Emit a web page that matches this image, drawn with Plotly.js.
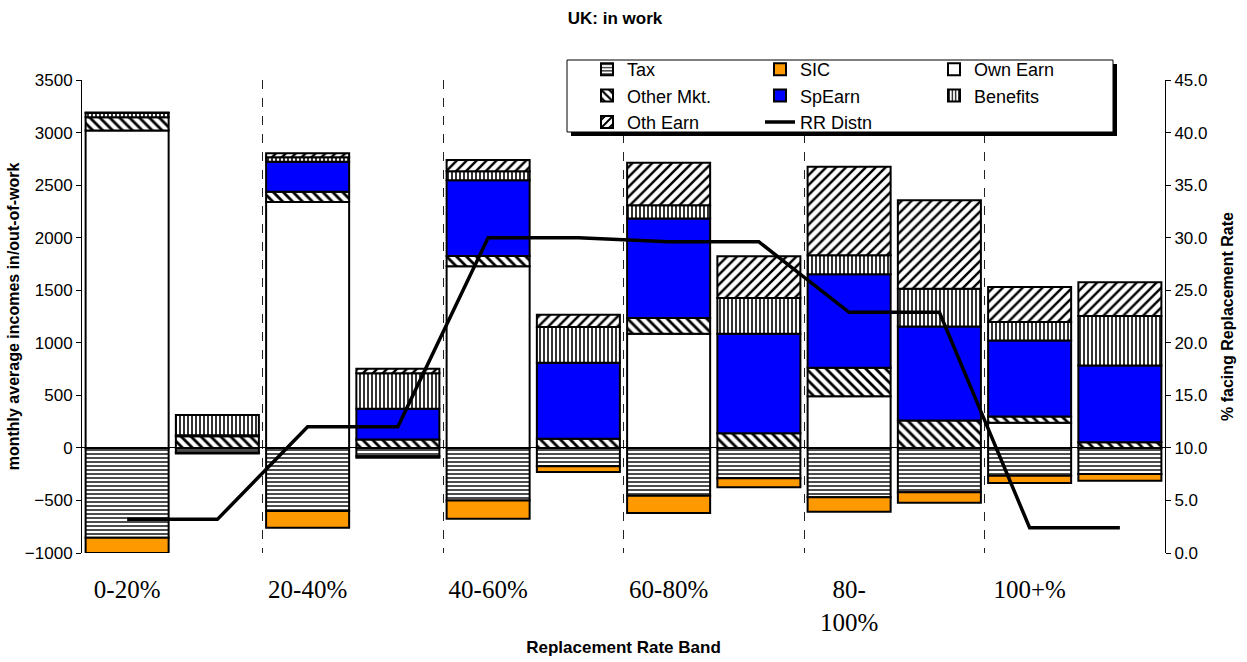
<!DOCTYPE html>
<html>
<head>
<meta charset="utf-8">
<script src="https://cdn.plot.ly/plotly-3.0.1.min.js"></script>
<style>html,body{margin:0;padding:0;background:#fff;}#chart{width:1247px;height:662px;}</style>
</head>
<body>
<div id="chart"></div>
<script>
// Replacement-rate bands (each band has an in-work bar and an out-of-work bar)
const bandLabels = ["0-20%", "20-40%", "40-60%", "60-80%", "80-<br>100%", "100+%"];

// Components per bar (order: band1 in, band1 out, band2 in, band2 out, ...)
const tax      = [-855, -45, -600, -80, -500, -175, -455, -290, -470, -423, -264, -248];
const sic      = [-145,  -8, -160, -15, -175,  -55, -165,  -85, -137, -100,  -70,  -64];
const ownEarn  = [3020,   0, 2340,   0, 1728,    0, 1086,    0,  492,    0,  238,    0];
const otherMkt = [ 125, 110,   96,  79,   98,   86,  149,  139,  270,  260,   60,   53];
const spEarn   = [   0,  10,  286, 293,  721,  724,  947,  947,  889,  894,  724,  731];
const benefits = [  40, 194,   42, 339,   86,  339,  127,  340,  182,  361,  175,  470];
const othEarn  = [   5,   0,   38,  42,  105,  118,  403,  397,  841,  842,  333,  321];

// % facing replacement rate (secondary axis)
const rrDistn  = [3.2, 3.2, 12.0, 12.0, 30.0, 30.0, 29.6, 29.6, 22.9, 22.9, 2.4, 2.4];

const xPos = tax.map((_, i) => i);
const bandTickVals = bandLabels.map((_, i) => i * 2);
const bandSeparators = bandLabels.slice(1).map((_, i) => i * 2 + 1.5);

const outline = {color: '#000', width: 2};
function pat(shape, size, solidity) {
  return {shape: shape, fgcolor: '#000', bgcolor: '#fff', size: size, solidity: solidity, fillmode: 'replace'};
}
function barTrace(name, vals, marker, legend) {
  return {
    type: 'bar', name: name, legend: legend, x: xPos, y: vals.map(v => v === 0 ? null : v),
    marker: Object.assign({line: outline}, marker), hoverinfo: 'name+y'
  };
}

const traces = [
  barTrace('Tax', tax, {color: '#fff', pattern: pat('-', 4, 0.35)}, 'legend'),
  barTrace('SIC', sic, {color: '#FF9900'}, 'legend2'),
  barTrace('Own Earn', ownEarn, {color: '#fff'}, 'legend3'),
  barTrace('Other Mkt.', otherMkt, {color: '#fff', pattern: pat('\\', 7, 0.4)}, 'legend'),
  barTrace('SpEarn', spEarn, {color: '#0000FF'}, 'legend2'),
  barTrace('Benefits', benefits, {color: '#fff', pattern: pat('|', 4, 0.4)}, 'legend3'),
  barTrace('Oth Earn', othEarn, {color: '#fff', pattern: pat('/', 7, 0.35)}, 'legend'),
  {type: 'scatter', mode: 'lines', name: 'RR Distn', legend: 'legend2', x: xPos, y: rrDistn, yaxis: 'y2',
   line: {color: '#000', width: 3.5}}
];

const W = 1247, H = 662, ml = 82, mr = 82, mt = 80, mb = 109;
const pw = W - ml - mr, ph = H - mt - mb;
const toPaperX = x => (x - ml) / pw;
const toPaperY = y => (H - mb - y) / ph;

function legendAt(left) {
  return {orientation: 'v', x: toPaperX(left), y: toPaperY(51), xanchor: 'left', yanchor: 'top',
          bgcolor: 'rgba(0,0,0,0)', borderwidth: 0, font: {size: 18}, traceorder: 'normal'};
}

const layout = {
  width: W, height: H,
  margin: {l: ml, r: mr, t: mt, b: mb, pad: 0},
  paper_bgcolor: '#fff', plot_bgcolor: '#fff',
  font: {family: '"Liberation Sans", Arial, sans-serif', color: '#000', size: 16},
  title: {text: '<b>UK: in work</b>', font: {size: 17}, x: toPaperX(615), xanchor: 'center', xref: 'paper', y: 1 - 18 / H, yref: 'container', yanchor: 'middle'},
  barmode: 'relative', bargap: 0.08,
  showlegend: true,
  legend: legendAt(587),
  legend2: legendAt(760),
  legend3: legendAt(934),
  xaxis: {
    range: [-0.5, 11.5], tickmode: 'array', tickvals: bandTickVals, ticktext: bandLabels,
    tickfont: {family: '"Liberation Serif", "Times New Roman", serif', size: 25},
    ticks: '', showline: false, showgrid: false, zeroline: false, ticklabelstandoff: 19,
    minor: {tickmode: 'array', tickvals: bandSeparators, showgrid: true, griddash: 'dash', gridcolor: '#222', gridwidth: 1, ticks: ''},
    title: {text: '<b>Replacement Rate Band</b>', font: {size: 17}, standoff: 6}
  },
  yaxis: {
    range: [-1000, 3500], tick0: 0, dtick: 500, ticks: 'outside', ticklen: 5, tickcolor: '#000',
    showline: true, linecolor: '#000', linewidth: 1, showgrid: false,
    zeroline: true, zerolinecolor: '#000', zerolinewidth: 1,
    tickfont: {size: 17},
    title: {text: '<b>monthly average incomes in/out-of-work</b>', font: {size: 16}, standoff: 1}
  },
  yaxis2: {
    overlaying: 'y', side: 'right', range: [0, 45], tick0: 0, dtick: 5, tickformat: '.1f',
    ticks: 'outside', ticklen: 5, tickcolor: '#000', showline: true, linecolor: '#000', linewidth: 1,
    showgrid: false, zeroline: false, tickfont: {size: 17},
    title: {text: '<b>% facing Replacement Rate</b>', font: {size: 16}, standoff: 15}
  },
  shapes: [
    // legend drop shadow and frame
    {type: 'rect', xref: 'paper', yref: 'paper', x0: toPaperX(571), x1: toPaperX(1117), y0: toPaperY(136), y1: toPaperY(64),
     fillcolor: '#000', line: {width: 0}, layer: 'above'},
    {type: 'rect', xref: 'paper', yref: 'paper', x0: toPaperX(567), x1: toPaperX(1113), y0: toPaperY(132), y1: toPaperY(60),
     fillcolor: '#fff', line: {color: '#000', width: 1}, layer: 'above'}
  ]
};

Plotly.newPlot('chart', traces, layout, {displayModeBar: false, staticPlot: true});
</script>
</body>
</html>
